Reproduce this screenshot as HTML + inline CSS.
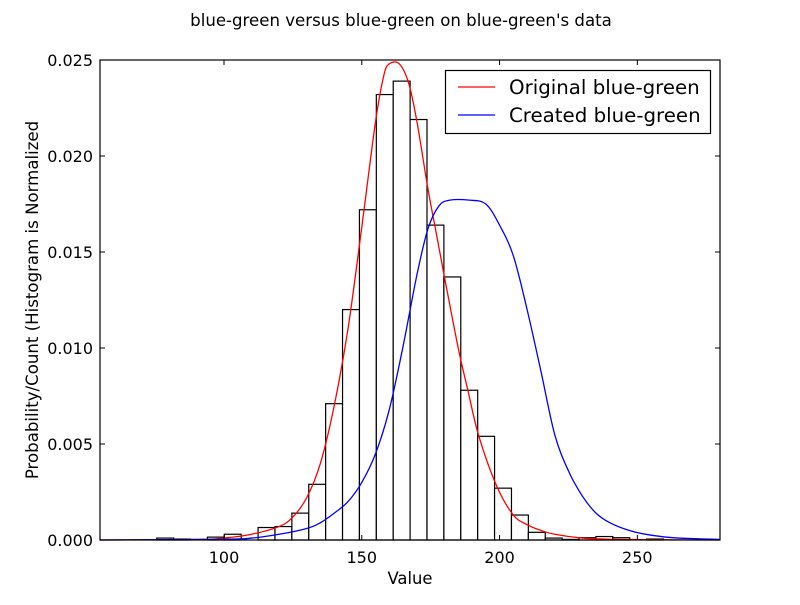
<!DOCTYPE html>
<html><head><meta charset="utf-8"><style>
body{margin:0;background:#fff}
svg text{font-family:"DejaVu Sans","Liberation Sans",sans-serif;fill:#000}
</style></head><body>
<svg id="chart" width="800" height="600" viewBox="0 0 800 600">
<rect width="800" height="600" fill="#fff"/>
<text x="401" y="26" font-size="16.6" text-anchor="middle">blue-green versus blue-green on blue-green's data</text>
<g id="plot"></g>
</svg>
<script>
const xTicks = [100, 150, 200, 250];
const yTicks = [0, 0.005, 0.010, 0.015, 0.020, 0.025];
const yTickLabels = ["0.000", "0.005", "0.010", "0.015", "0.020", "0.025"];
const binStart = 57.2;
const binWidth = 6.13;
const binHeights = [0,0,0,0.0001,0.00005,0,0.00015,0.0003,0,0.00065,0.0007,0.0014,0.0029,0.0071,0.0120,0.0172,0.0232,0.0239,0.0219,0.0164,0.0137,0.0078,0.0054,0.0027,0.0013,0.0004,0.0001,0.00003,0.00012,0.00018,0.00012,0,0.00005,0,0,0];
const redX = [55,90,100,110,120,125,130,135,140,145,150,155,158,160,163.6,167,170,174,177,180,185,188.5,192.5,199,205,210,215,220,230,240,260,280];
const redY = [0,0.00003,0.0001,0.0003,0.0007,0.0012,0.0022,0.0040,0.0070,0.0110,0.0163,0.0218,0.0242,0.0248,0.0248,0.0238,0.0218,0.0183,0.0160,0.0137,0.0100,0.0078,0.0054,0.0028,0.0013,0.0008,0.0005,0.0003,0.0001,0.00004,0.00001,0];
const blueX = [55,100,110,120,130,135,140,145,150,155,160,165,170,174,178,182,189,195,200,205,210,215,220,225,230,235,240,247,255,265,280];
const blueY = [0,0.00004,0.0001,0.0003,0.0006,0.0009,0.0014,0.0020,0.0030,0.0045,0.0068,0.0101,0.0138,0.0162,0.0174,0.0177,0.0177,0.0175,0.0164,0.0148,0.0120,0.0088,0.0055,0.0036,0.0023,0.0014,0.0009,0.0005,0.00025,0.0001,0.00003];

const L=100,R=720,T=60,B=540,xMin=55,xMax=280,yMax=0.025;
const sx=v=>L+(v-xMin)/(xMax-xMin)*(R-L);
const sy=v=>B-v/yMax*(B-T);
const NS='http://www.w3.org/2000/svg';
const g=document.getElementById('plot');
function mk(tag,attrs,parent){const e=document.createElementNS(NS,tag);for(const k in attrs)e.setAttribute(k,attrs[k]);(parent||g).appendChild(e);return e;}

binHeights.forEach((h,i)=>{
  const x0=sx(binStart+i*binWidth),x1=sx(binStart+(i+1)*binWidth);
  if(x1>R||x0<L)return;
  const r=mk('rect',{x:x0,y:sy(h),width:x1-x0,height:B-sy(h),fill:'#fff',stroke:'#000','stroke-width':1.2});
  
  
});
function smoothPath(pts){
  let d='M'+pts[0][0]+','+pts[0][1];
  for(let i=0;i<pts.length-1;i++){
    const p0=pts[Math.max(0,i-1)],p1=pts[i],p2=pts[i+1],p3=pts[Math.min(pts.length-1,i+2)];
    const c1=[p1[0]+(p2[0]-p0[0])/6,p1[1]+(p2[1]-p0[1])/6];
    const c2=[p2[0]-(p3[0]-p1[0])/6,p2[1]-(p3[1]-p1[1])/6];
    d+=' C'+c1+' '+c2+' '+p2;
  }
  return d;
}
function line(xs,ys,color,name){
  const pts=xs.map((x,i)=>[sx(x),Math.min(B,sy(ys[i]))]);
  const p=mk('path',{d:smoothPath(pts),fill:'none',stroke:color,'stroke-width':1.3});
  
  
}
line(redX,redY,'#f00','original-curve');
line(blueX,blueY,'#00f','created-curve');

const frame=mk('rect',{x:L,y:T,width:R-L,height:B-T,fill:'none',stroke:'#000','stroke-width':1.2});



xTicks.forEach(v=>{
  const x=sx(v);
  mk('line',{x1:x,x2:x,y1:B,y2:B-5,stroke:'#000'});
  mk('line',{x1:x,x2:x,y1:T,y2:T+5,stroke:'#000'});
  const t=mk('text',{x:x,y:B+23,'font-size':16,'text-anchor':'middle'});t.textContent=v;
  
  
});
yTicks.forEach((v,i)=>{
  const y=sy(v);
  mk('line',{x1:L,x2:L+5,y1:y,y2:y,stroke:'#000'});
  mk('line',{x1:R,x2:R-5,y1:y,y2:y,stroke:'#000'});
  const t=mk('text',{x:L-7,y:y+6,'font-size':16,'text-anchor':'end'});t.textContent=yTickLabels[i];
  
  
});
const xl=mk('text',{x:410,y:584,'font-size':16.4,'text-anchor':'middle'});xl.textContent='Value';


const yl=mk('text',{x:38,y:300,'font-size':16.6,'text-anchor':'middle',transform:'rotate(-90 38 300)'});yl.textContent='Probability/Count (Histogram is Normalized';



const lg=mk('g',{});


mk('rect',{x:445.5,y:70.5,width:265,height:63,fill:'#fff',stroke:'#000','stroke-width':1.2},lg);
[['Original blue-green','#f00',87],['Created blue-green','#00f',115]].forEach(([lab,c,y])=>{
  mk('line',{x1:458,x2:495,y1:y,y2:y,stroke:c,'stroke-width':1.3},lg);
  const t=mk('text',{x:509,y:y+7,'font-size':19.8},lg);t.textContent=lab;
  
  
});
</script>
</body></html>
